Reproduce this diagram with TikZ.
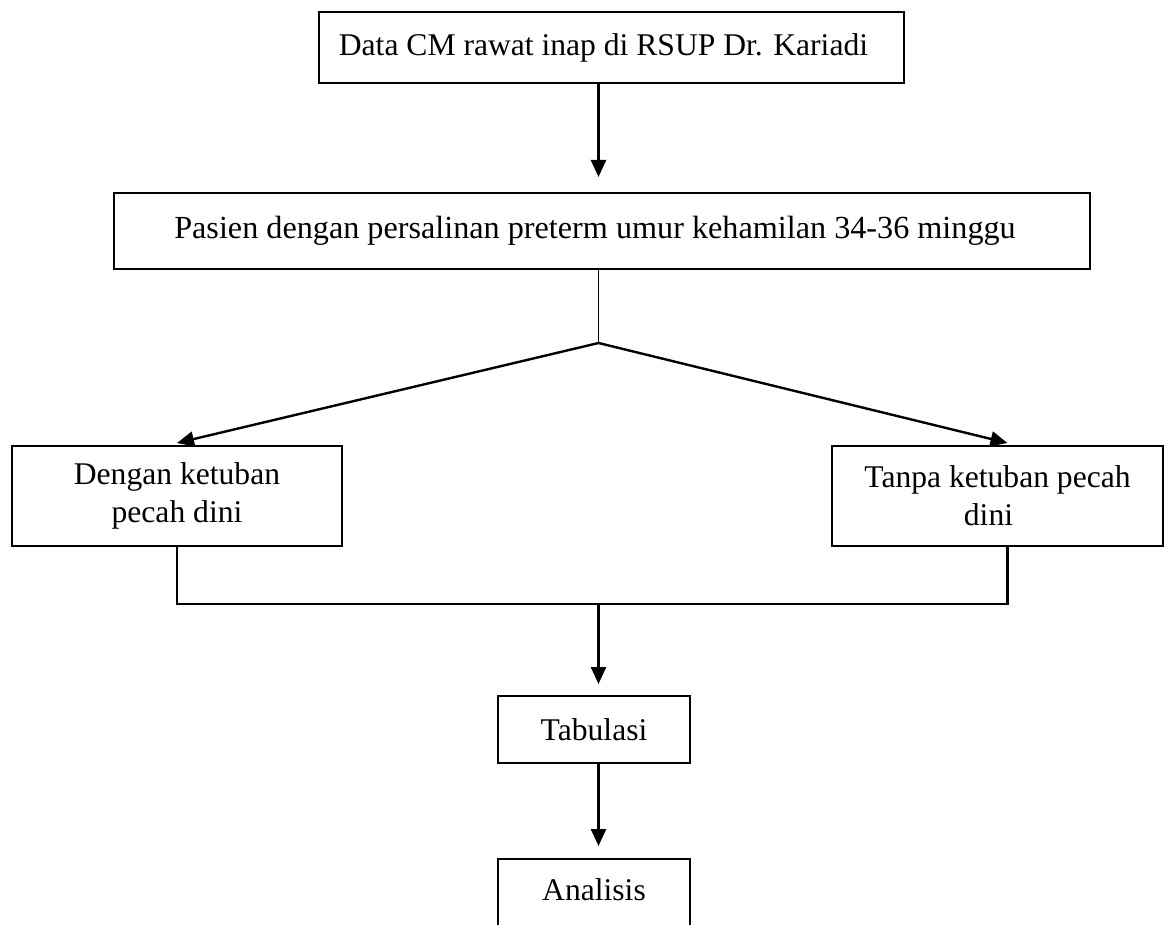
\documentclass[tikz,border=0pt]{standalone}
\usepackage{fontspec}
\setmainfont{Liberation Serif}
\usetikzlibrary{arrows.meta}
\begin{document}
\begin{tikzpicture}[x=0.5pt,y=-0.5pt,
  stepbox/.style={draw=black,line width=1pt,rectangle,inner sep=0pt,align=center,
    font=\fontsize{15.8}{19}\selectfont},
  arr/.style={line width=1.2pt,-{Triangle[length=8.5pt,width=7.5pt]}},
  ln/.style={line width=1.2pt},
  thin ln/.style={line width=0.8pt}]
\useasboundingbox (0,0) rectangle (1171,925);
\clip (0,0) rectangle (1171,925);
\node[stepbox,minimum width=292.5pt,minimum height=35.5pt] (b1) at (611.5,47.5) {Data CM rawat inap di RSUP Dr. Kariadi\hspace*{8pt}};
\node[stepbox,minimum width=488pt,minimum height=38pt,font=\fontsize{16.1}{18}\selectfont] (b2) at (602,231) {Pasien dengan persalinan preterm umur kehamilan 34-36 minggu\hspace*{7pt}};
\node[stepbox,minimum width=165pt,minimum height=50pt] (b3) at (177,496) {Dengan ketuban\\pecah dini};
\node[stepbox,minimum width=165.5pt,minimum height=50pt] (b4) at (997.5,496) {Tanpa ketuban pecah\\dini\hspace*{9pt}};
\node[stepbox,minimum width=96pt,minimum height=33.5pt] (b5) at (594,729.5) {Tabulasi};
\node[stepbox,minimum width=96pt,minimum height=36pt,text depth=0pt] (b6) at (594,895) {\raisebox{5pt}{Analisis}};
\coordinate (sp) at (598.5,0);
\coordinate (br) at (598.5,343);
\coordinate (rx) at (1007.5,0);
\coordinate (jl) at (177,604);
\coordinate (jr) at (1007.5,604);
\coordinate (jm) at (598.5,604);
\draw[arr] (b1.south -| sp) -- ([yshift=7.5pt]b2.north -| sp);
\draw[thin ln] (b2.south -| sp) -- (br);
\draw[arr] (br) -- ([yshift=1pt]b3.north);
\draw[arr] (br) -- ([yshift=1pt]b4.north -| rx);
\draw[ln] (b3.south) -- (jl) -- (jr) -- (b4.south -| rx);
\draw[arr] (jm) -- ([yshift=5.5pt]b5.north -| sp);
\draw[arr] (b5.south -| sp) -- ([yshift=6pt]b6.north -| sp);
\end{tikzpicture}
\end{document}
